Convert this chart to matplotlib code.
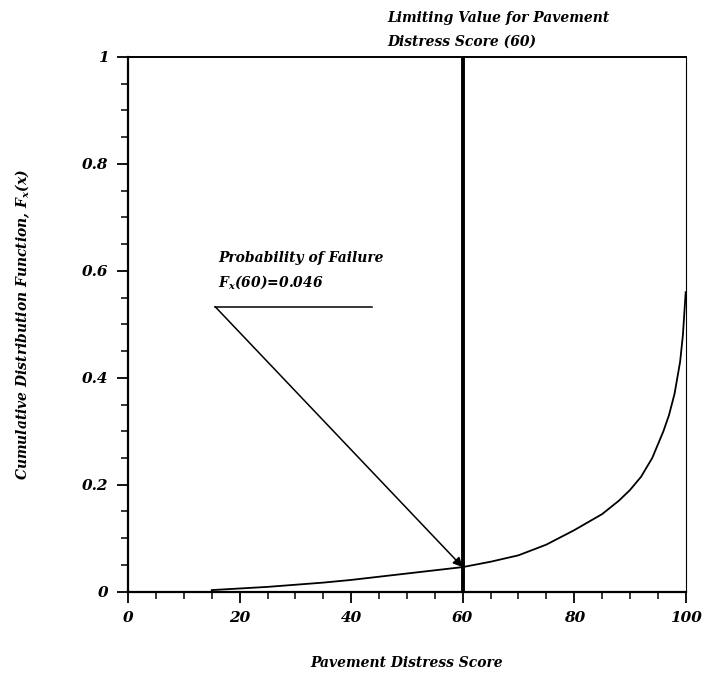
import matplotlib
matplotlib.use('Agg')
import matplotlib.pyplot as plt
from matplotlib.ticker import MultipleLocator

# CDF curve
score = [15, 20, 25, 30, 35, 40, 45, 50, 55, 60, 65, 70, 75, 80, 85, 88,
         90, 92, 94, 96, 97, 98, 99, 99.5, 100]
cdf = [0.003, 0.006, 0.009, 0.013, 0.017, 0.022, 0.028, 0.034, 0.040, 0.046,
       0.056, 0.068, 0.088, 0.115, 0.145, 0.17, 0.19, 0.215, 0.25, 0.30,
       0.33, 0.37, 0.43, 0.48, 0.56]

limit_score = 60
p_fail = 0.046
x_ticks = [0, 20, 40, 60, 80, 100]
y_ticks = [0, 0.2, 0.4, 0.6, 0.8, 1]
y_tick_labels = ['0', '0.2', '0.4', '0.6', '0.8', '1']

plt.rcParams['font.family'] = 'DejaVu Serif'
plt.rcParams['font.style'] = 'italic'
plt.rcParams['font.weight'] = 'bold'
plt.rcParams['axes.labelweight'] = 'bold'
plt.rcParams['mathtext.fontset'] = 'custom'
plt.rcParams['mathtext.it'] = 'DejaVu Serif:italic:bold'
plt.rcParams['mathtext.rm'] = 'DejaVu Serif:italic:bold'

fig = plt.figure(figsize=(7.04, 6.77), dpi=100)
ax = fig.add_axes([0.182, 0.126, 0.792, 0.790])

ax.plot(score, cdf, color='black', lw=1.3)
ax.axvline(limit_score, color='black', lw=2.8)

ax.set_xlim(0, 100)
ax.set_ylim(0, 1)
ax.set_xticks(x_ticks)
ax.set_yticks(y_ticks)
ax.set_yticklabels(y_tick_labels)
ax.xaxis.set_minor_locator(MultipleLocator(5))
ax.yaxis.set_minor_locator(MultipleLocator(0.05))
ax.tick_params(which='major', direction='out', length=8, width=1.3, labelsize=11, pad=6)
ax.tick_params(which='minor', direction='out', length=5, width=1.1)

for side in ['left', 'bottom']:
    ax.spines[side].set_linewidth(1.6)
ax.spines['top'].set_linewidth(1.4)
ax.spines['right'].set_linewidth(0.8)

ax.set_xlabel('Pavement Distress Score', fontsize=10, labelpad=22)
ax.set_ylabel('Cumulative Distribution Function, $F_x(x)$', fontsize=10, labelpad=36)

# annotation for probability of failure
ax.plot([15.6, 43.7], [0.533, 0.533], color='black', lw=1.1)
ax.annotate('', xy=(limit_score, p_fail), xytext=(15.6, 0.533),
            arrowprops=dict(arrowstyle='-|>', color='black', lw=1.1,
                            mutation_scale=14, shrinkA=0, shrinkB=0))
ax.text(16.2, 0.624, 'Probability of Failure', fontsize=10, va='center')
ax.text(16.2, 0.578, '$F_x$(60)=0.046', fontsize=10, va='center')

ax.text(46.4, 1.073, 'Limiting Value for Pavement', fontsize=10, va='center', clip_on=False)
ax.text(46.4, 1.028, 'Distress Score (60)', fontsize=10, va='center', clip_on=False)

fig.savefig('out.png', dpi=100)
